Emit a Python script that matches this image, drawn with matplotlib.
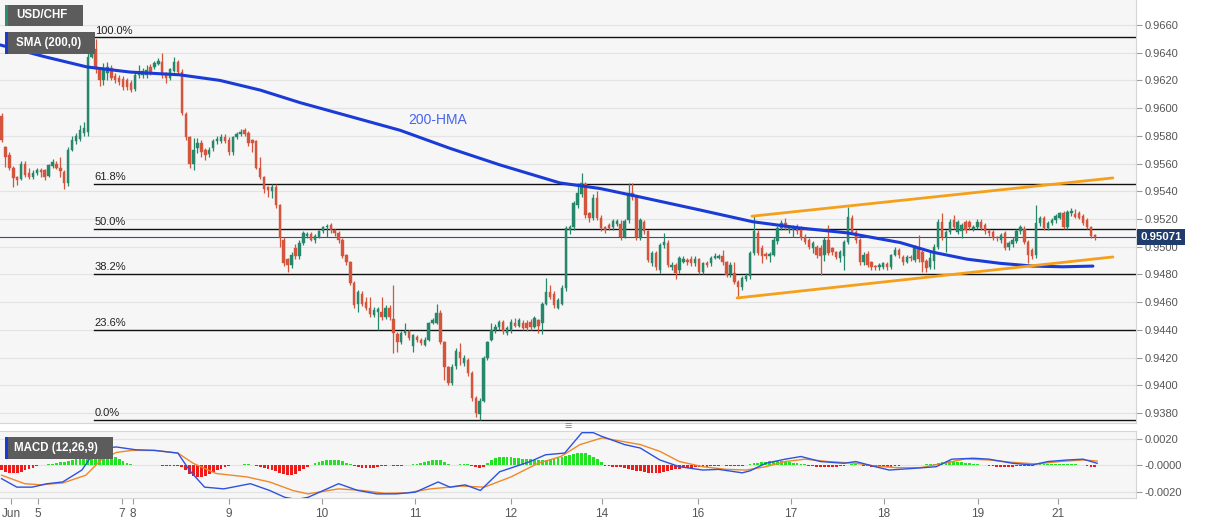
import matplotlib
matplotlib.use("Agg")
import matplotlib.pyplot as plt
import matplotlib.transforms as mtransforms
from matplotlib.patches import Rectangle
import numpy as np

plt.rcParams['font.family'] = ['Liberation Sans', 'DejaVu Sans']

# ---------------- data (prices in pips: value / 10000) ----------------
opens = [
 9594, 9572, 9566, 9557, 9550, 9549, 9560, 9553, 9550, 9553,
 9555.5, 9555, 9551, 9558, 9560, 9557, 9554, 9546, 9570, 9576,
 9578, 9582, 9583, 9637, 9643, 9628, 9620, 9625, 9629, 9623,
 9622, 9621, 9620, 9618, 9614, 9624, 9624, 9624, 9630, 9630,
 9632, 9633, 9625, 9622, 9627, 9633, 9626, 9596, 9579, 9560,
 9571, 9575, 9570, 9567, 9571, 9576, 9576.5, 9579, 9577, 9568,
 9579, 9581, 9584, 9582, 9577, 9576, 9557, 9550, 9543, 9540,
 9543, 9530, 9505, 9491, 9487, 9499, 9493, 9503, 9507.5, 9509,
 9505, 9507, 9511, 9514, 9515.5, 9512, 9510, 9505, 9494, 9489,
 9474, 9459, 9466, 9460, 9456, 9451, 9453, 9453, 9449, 9456,
 9448, 9437, 9431, 9437.5, 9439, 9428, 9435, 9433, 9429, 9433,
 9445, 9445, 9452, 9431, 9413, 9402, 9414, 9424, 9416, 9418,
 9409, 9391, 9379, 9389, 9420, 9433, 9440, 9442, 9446, 9438,
 9440, 9445, 9443, 9445, 9445, 9446, 9442, 9447, 9445, 9459,
 9467, 9466, 9456, 9459, 9470, 9512, 9514, 9530, 9538, 9545,
 9524, 9521, 9535, 9521, 9514, 9515.5, 9514, 9516.5, 9516.5, 9507,
 9519, 9539, 9536, 9506, 9518, 9511, 9488, 9495.5, 9483, 9501,
 9503, 9485, 9487, 9483, 9489, 9490.5, 9491, 9488, 9491, 9482,
 9488.5, 9488, 9492, 9492, 9493, 9489, 9480, 9481, 9474.5, 9471,
 9477, 9479, 9495.5, 9510, 9499, 9495, 9493, 9494, 9504, 9513.5,
 9517, 9512, 9512, 9515, 9513.5, 9507, 9505, 9499, 9500, 9499,
 9494, 9505, 9499, 9496, 9492, 9493, 9503.5, 9521, 9510.5, 9505,
 9489, 9495, 9489, 9486, 9485, 9485, 9487.5, 9485, 9494, 9497.5,
 9492.5, 9489, 9492.5, 9490.5, 9498, 9496, 9490, 9485, 9490, 9500,
 9518, 9507, 9510.5, 9519.5, 9510.5, 9511, 9517.5, 9517.5, 9512.5, 9514,
 9518, 9515.5, 9511.5, 9510.5, 9507, 9505, 9510, 9500, 9502, 9504,
 9511, 9513, 9503.5, 9497.5, 9494, 9517, 9520.5, 9513.5, 9517, 9519,
 9521, 9524.5, 9514, 9524, 9523.5, 9524, 9522, 9519, 9514, 9508.5]

highs = [
 9596.5, 9573, 9568, 9558, 9551, 9562, 9562, 9557, 9555, 9557,
 9557, 9556, 9560, 9563, 9562, 9565, 9555, 9572, 9580, 9582,
 9588, 9590, 9645, 9651, 9650, 9630, 9632.5, 9633, 9631, 9625,
 9624, 9623, 9622, 9620, 9626, 9631, 9629, 9631, 9632, 9634,
 9636, 9640, 9626, 9629, 9637, 9635, 9628, 9597, 9580, 9578.5,
 9578.5, 9577, 9571, 9572, 9578, 9580, 9581, 9581, 9579, 9580,
 9583, 9585, 9586, 9583.5, 9578, 9577, 9565, 9551, 9544, 9545,
 9545, 9531, 9507, 9492, 9496, 9502, 9505, 9511.5, 9510.5, 9510.5,
 9509, 9512, 9515, 9516.5, 9517, 9513, 9511, 9506, 9495, 9490,
 9475, 9469, 9468, 9464, 9464, 9456.5, 9456.5, 9464, 9458, 9458,
 9472.5, 9438.5, 9439, 9445, 9440, 9437, 9436, 9434, 9435, 9446,
 9448.5, 9459, 9454, 9432, 9414, 9415, 9427, 9430.5, 9422, 9420,
 9410, 9392, 9391, 9421, 9432, 9445, 9444, 9447, 9447, 9443,
 9448, 9448.5, 9448.5, 9447, 9447, 9448, 9450, 9448, 9460, 9477.5,
 9472.5, 9468, 9463, 9472, 9515, 9516, 9533, 9546, 9553, 9547,
 9525, 9538, 9540, 9523, 9515, 9517, 9520, 9520, 9519, 9520,
 9546, 9546, 9537, 9521, 9519, 9512, 9497, 9497, 9503, 9510,
 9505, 9489, 9488, 9493, 9493, 9492, 9493, 9493, 9492, 9489,
 9490, 9493.5, 9495.5, 9495, 9497.5, 9490, 9489, 9489, 9476, 9479,
 9481, 9497, 9522, 9512, 9501, 9496, 9496, 9507, 9515, 9519,
 9520.5, 9516, 9516, 9516.5, 9515, 9509, 9506, 9504, 9501, 9501,
 9507, 9515.5, 9500, 9497, 9497.5, 9505, 9528.5, 9523, 9512, 9506,
 9496, 9497, 9490, 9487, 9488, 9489, 9489, 9495, 9500, 9499,
 9494, 9494, 9494, 9501, 9508.5, 9497.5, 9491, 9497, 9502, 9520,
 9524.5, 9512, 9520, 9523, 9519, 9517, 9519, 9519.5, 9515.5, 9520,
 9520, 9517, 9513, 9512, 9508, 9510, 9511, 9504, 9507, 9512.5,
 9516, 9515, 9505, 9499, 9530, 9522, 9522, 9518.5, 9520.5, 9523.5,
 9525, 9526, 9526.5, 9528, 9527.5, 9526, 9523.5, 9520.5, 9515, 9509.5]

lows = [
 9575.5, 9557.5, 9555, 9543, 9544.5, 9548, 9550, 9549, 9549, 9552,
 9550, 9548, 9550, 9557, 9556, 9550, 9541.5, 9544, 9569, 9574,
 9576, 9580, 9580, 9636, 9625, 9616, 9617, 9620, 9620, 9618,
 9617, 9613, 9613, 9611.5, 9612, 9622, 9622, 9621.5, 9624, 9628,
 9631, 9622, 9618, 9620, 9626, 9624, 9595, 9577, 9557, 9555,
 9567.5, 9565, 9562.5, 9565, 9569, 9574, 9575, 9575, 9566, 9566,
 9578, 9580, 9580, 9573, 9568, 9556, 9548.5, 9539, 9536, 9535,
 9528, 9500, 9486, 9482, 9484.5, 9491, 9491, 9501, 9506, 9504,
 9503, 9506, 9510, 9507, 9510, 9508, 9503, 9492, 9487, 9472,
 9456, 9453, 9457, 9454, 9449, 9449, 9440, 9447, 9448, 9447,
 9423, 9424, 9430, 9436, 9433, 9424, 9431, 9429, 9428, 9432,
 9444, 9444, 9430, 9404, 9400, 9400, 9412, 9414.5, 9414, 9407,
 9389, 9377, 9375, 9388, 9418, 9432, 9438, 9440, 9437, 9436,
 9438, 9442, 9442, 9440, 9439, 9440, 9441, 9438, 9437, 9458,
 9462, 9456, 9455, 9458, 9468, 9509, 9512, 9528, 9536, 9521,
 9518, 9519, 9519, 9511, 9510, 9512, 9512, 9515, 9505, 9506,
 9517, 9534, 9505, 9505, 9509, 9489, 9486, 9483, 9481, 9499,
 9485, 9483, 9477, 9481, 9488, 9487, 9486, 9486, 9480, 9480,
 9485, 9486, 9491, 9491, 9487, 9478, 9478, 9473, 9463, 9469,
 9475, 9477, 9494, 9494, 9488, 9491, 9489, 9493, 9502, 9512,
 9512, 9510, 9507, 9509, 9504.5, 9502, 9498, 9495.5, 9492, 9479.5,
 9490, 9494, 9494, 9491, 9489, 9483, 9502, 9509, 9503, 9487,
 9487, 9485, 9483, 9483, 9483, 9484, 9483, 9484, 9493, 9492,
 9487, 9488, 9490, 9489, 9489, 9481.5, 9482, 9484, 9484, 9498,
 9505, 9496, 9509, 9513, 9509, 9506, 9510, 9512, 9511, 9513,
 9512, 9509, 9508, 9504.5, 9504, 9503, 9497.5, 9497.5, 9500, 9502.5,
 9509, 9502, 9488, 9491, 9492, 9515, 9512, 9512, 9515.5, 9517,
 9520, 9512.5, 9512.5, 9522.5, 9521, 9520, 9516, 9512.5, 9506, 9505]

closes = [
 9577, 9565, 9557, 9549.5, 9548, 9560, 9552, 9550, 9553, 9555.5,
 9554, 9550, 9559, 9561, 9557, 9554.5, 9546, 9570, 9577, 9580,
 9584, 9586, 9637, 9643, 9628, 9620, 9629, 9630, 9622, 9620,
 9619, 9615, 9615, 9613, 9624, 9626, 9627, 9627.5, 9626, 9632.5,
 9634, 9624, 9622, 9628, 9633, 9626, 9596.5, 9579, 9560, 9570,
 9575, 9568, 9566, 9570, 9576, 9578, 9579, 9576.5, 9568, 9579,
 9581.5, 9583, 9581, 9575, 9575, 9557, 9550, 9541.5, 9541, 9543,
 9530, 9506, 9488, 9487, 9494, 9493, 9503, 9510, 9509, 9505,
 9507.5, 9511, 9514, 9515, 9512, 9510, 9505, 9493.5, 9489, 9474,
 9458, 9467, 9459, 9456, 9451.5, 9454, 9455, 9449.5, 9456, 9449.5,
 9438, 9431, 9438, 9439.5, 9434, 9436, 9433, 9430.5, 9433, 9445,
 9447, 9452, 9431, 9413, 9402, 9413, 9425, 9420, 9420, 9409,
 9391, 9380, 9389, 9420, 9431, 9440, 9442, 9446, 9439, 9441.5,
 9446, 9443, 9447, 9441.5, 9441.5, 9442, 9448.5, 9443, 9459, 9467,
 9464, 9458, 9461.5, 9470, 9513.5, 9514.5, 9531.5, 9539, 9546, 9523,
 9521, 9535, 9521, 9513.5, 9512, 9513.5, 9518.5, 9518.5, 9507, 9518.5,
 9539, 9536, 9507, 9519, 9511, 9490.5, 9495.5, 9485, 9501, 9503.5,
 9487, 9487, 9481, 9492, 9491, 9489, 9488, 9491, 9482, 9488,
 9486.5, 9492, 9493.5, 9493.5, 9489, 9479.5, 9487, 9474.5, 9471, 9477.5,
 9479, 9495.5, 9511, 9495.5, 9493, 9493, 9494.5, 9505, 9513.5, 9517,
 9513.5, 9514.5, 9514.5, 9511, 9506, 9503.5, 9500, 9502.5, 9494, 9493,
 9505, 9495.5, 9496, 9492.5, 9496, 9503.5, 9521.5, 9510.5, 9505, 9489,
 9494, 9487, 9485, 9485, 9486.5, 9488, 9485, 9494, 9497.5, 9494,
 9489, 9492.5, 9491.5, 9499, 9491, 9489, 9484.5, 9492, 9500, 9518,
 9507, 9510.5, 9518, 9514.5, 9517.5, 9515.5, 9512, 9514, 9514, 9518,
 9513.5, 9511, 9510, 9506, 9506, 9508.5, 9499, 9502.5, 9505, 9511,
 9514.5, 9503.5, 9494, 9493, 9517, 9520.5, 9513.5, 9517, 9519, 9522,
 9524.5, 9514, 9525, 9526, 9521.5, 9521, 9517, 9514, 9507.5, 9507.1]

# 200-HMA line read at candle positions
sma_idx = [-0.4, 11.1, 21.8, 32.8, 45.5, 55.7, 66, 76.1, 88.9, 101.7, 114.4, 127.2,
           142.5, 152.7, 161.1, 178.2, 191.7, 203.7, 215.7, 229.3, 237.7, 246.4,
           254.8, 263.2, 270.9, 278.5]
sma_val = [9645.6, 9637, 9629.7, 9626, 9624, 9620, 9613, 9604, 9594, 9584, 9571, 9559,
           9546, 9542, 9537, 9526.5, 9518, 9513.5, 9510, 9503, 9496, 9491,
           9488, 9486, 9485.5, 9486]

# MACD (12,26,9) lines, values x1e-5
macd_idx = [0, 3.9, 7.8, 11.7, 15.6, 20.5, 23.5, 26.4, 29.3, 34.2, 39.1, 45, 47.9, 51.8,
            56.7, 63.5, 68.4, 72.3, 75.3, 78.2, 86, 90.9, 95.8, 100.7, 105.6, 111.4,
            114.4, 118.3, 122.2, 127.1, 134.9, 138.8, 143.7, 148.1, 151, 153, 159, 163,
            168, 173, 179, 183, 189, 191, 195, 200, 204, 209, 215, 218, 223, 226.5,
            232.5, 238.5, 242.5, 248, 252, 258, 263, 267, 272, 276, 279.6]
macd_val = [-103, -167, -167, -141, -128, -38, 90, 128, 136, 115, 110, 90, -38, -167,
            -180, -141, -192, -244, -260, -244, -141, -192, -218, -218, -205, -128,
            -167, -150, -192, -51, 26, 77, 90, 244, 244, 218, 154, 128,
            38, -13, -38, -33, -59, -44, 13, 44, 64, 26, 13, 26, -13, -38,
            -26, -13, 44, 51, 44, 13, 0, 26, 38, 44, 13]
signal_idx = [0, 5.9, 9.8, 15.6, 21.5, 25.4, 29.3, 33.2, 39.1, 45, 48.9, 54.7, 62.6,
              68.4, 74.3, 78.2, 86, 91.9, 97.8, 103.6, 109.5, 117.3, 123.2, 130, 136.9,
              142.7, 147.6, 153.3, 163, 168, 173, 179, 185, 190, 195, 200, 205, 211,
              218, 223, 228.5, 234.5, 240.5, 246, 252, 258, 264, 270, 276, 279.6]
signal_val = [-77, -141, -149, -136, -77, 38, 95, 110, 110, 90, 13, -64, -90,
              -128, -192, -218, -180, -192, -213, -210, -180, -159, -167, -90, 13,
              64, 154, 205, 154, 103, 26, -13, -33, -38, -13, 26, 44, 26,
              13, -8, -20, -20, 13, 46, 38, 20, 8, 26, 38, 30]
hist_val = [
 -40, -50, -58, -60, -58, -50, -40, -30, -20, -10,
 -3, 3, 6, 10, 15, 20, 25, 30, 35, 42,
 50, 58, 68, 80, 92, 100, 95, 85, 72, 58,
 45, 30, 18, 8, 0, -1, -1, -1, 0, 0,
 0, -5, -5, -5, -5, -5, -15, -40, -65, -85,
 -90, -88, -80, -68, -55, -40, -28, -15, -5, 0,
 0, 3, 5, 5, 3, -5, -15, -22, -28, -35,
 -45, -58, -70, -78, -75, -65, -48, -30, -12, 3,
 12, 22, 30, 36, 40, 40, 36, 28, 18, 8,
 -10, -18, -24, -26, -26, -24, -18, -10, -4, -3,
 -6, -8, -6, -2, 3, 6, 10, 15, 20, 28,
 36, 40, 35, 22, 10, 0, 0, 5, 7, 5,
 -10, -18, -20, -12, 15, 35, 50, 58, 60, 60,
 58, 55, 52, 48, 45, 42, 40, 38, 38, 40,
 42, 45, 50, 58, 66, 75, 82, 88, 92, 88,
 75, 60, 42, 25, -5, -10, -12, -15, -18, -22,
 -28, -35, -42, -48, -55, -60, -62, -62, -58, -52,
 -45, -38, -32, -28, -25, -22, -20, -18, -16, -15,
 -13, -10, -8, -5, -3, -6, -8, -8, -8, -6,
 -3, 5, 12, 18, 22, 25, 28, 30, 30, 28,
 25, 22, 18, 14, 10, 6, -5, -10, -12, -14,
 -15, -15, -14, -12, -10, -6, 3, 5, 5, 3,
 -5, -10, -14, -16, -18, -18, -16, -12, -8, -4,
 -2, -1, 0, 1, 2, 3, 4, 6, 10, 16,
 22, 26, 28, 28, 26, 22, 18, 14, 10, 6,
 3, -3, -6, -10, -13, -15, -15, -14, -12, -10,
 -8, -8, -10, -5, 3, 5, 6, 7, 7, 7,
 6, 6, 5, 5, 4, 3, 2, -5, -12, -18]

fib_high = 0.9651
fib_low = 0.9375
fib_ratios = [1.0, 0.618, 0.5, 0.382, 0.236, 0.0]
fib_labels = ["100.0%", "61.8%", "50.0%", "38.2%", "23.6%", "0.0%"]
fib_start = 23.6

upper_idx = [191.5, 283.6]
upper_val = [9522, 9549.6]
lower_idx = [187.7, 283.6]
lower_val = [9463, 9492.6]

last_price = 0.95071

xtick_pos = [2.4, 9.3, 30.7, 33.5, 58.0, 81.8, 105.5, 130.0, 153.2, 177.7, 201.4, 225.2, 249.2, 269.5]
xtick_lab = ["Jun", "5", "7", "8", "9", "10", "11", "12", "14", "16", "17", "18", "19", "21"]
price_ticks = [0.9380, 0.9400, 0.9420, 0.9440, 0.9460, 0.9480, 0.9500, 0.9520,
               0.9540, 0.9560, 0.9580, 0.9600, 0.9620, 0.9640, 0.9660]
macd_ticks = [0.0020, 0.0, -0.0020]
macd_tick_lab = ["0.0020", "-0.0000", "-0.0020"]

# ---------------- figure ----------------
W, H = 1207, 526
fig = plt.figure(figsize=(W / 100, H / 100), dpi=100)
fig.patch.set_facecolor("white")


def fr(x0, y0, x1, y1):
    return [x0 / W, 1 - y1 / H, (x1 - x0) / W, (y1 - y0) / H]


ax = fig.add_axes(fr(0, 0, 1136, 423))
axm = fig.add_axes(fr(0, 431, 1136, 498), sharex=ax)

bg = "#f6f6f6"
grid_c = "#e3e3e3"
for a in (ax, axm):
    a.set_facecolor(bg)
    for s in a.spines.values():
        s.set_color("#d6d6d6")
        s.set_linewidth(0.8)
    a.spines["left"].set_visible(False)
ax.spines["top"].set_visible(False)

o = np.array(opens) / 1e4
h = np.array(highs) / 1e4
l = np.array(lows) / 1e4
c = np.array(closes) / 1e4
idx = np.arange(len(c))

ax.set_xlim(-0.4, 289.5)
ax.set_ylim(0.937278, 0.96780)

# grid
for p in price_ticks:
    ax.axhline(p, color=grid_c, lw=0.8, zorder=0)

up_c, dn_c = "#26876b", "#d5543c"
col = np.where(c >= o, up_c, dn_c)
ax.vlines(idx, l, h, colors=col, lw=0.9, zorder=3)
body_bot = np.minimum(o, c)
body_h = np.maximum(np.abs(c - o), 0.00003)
ax.bar(idx, body_h, bottom=body_bot, width=0.62, color=col, edgecolor=col, lw=0.3, zorder=4)

# fib lines
rng = fib_high - fib_low
for r, lab in zip(fib_ratios, fib_labels):
    lev = fib_low + r * rng
    ax.plot([fib_start, 289.5], [lev, lev], color="#111111", lw=1.0, zorder=2)
    ax.annotate(lab, xy=(fib_start, lev), xytext=(0.5, 1.2), textcoords="offset points",
                ha="left", va="bottom", fontsize=8, color="#222222", zorder=6)

# current price line
ax.axhline(last_price, color="#33507c", lw=0.8, zorder=2)

# 200-HMA
ax.plot(sma_idx, np.array(sma_val) / 1e4, color="#1b3bd6", lw=2.2, zorder=5,
        solid_capstyle="round")
ax.text(111.2, 0.95915, "200-HMA", color="#4764ee", fontsize=10, ha="center", va="center",
        zorder=6)

# channel
ax.plot(upper_idx, np.array(upper_val) / 1e4, color="#f5a01a", lw=2.0, zorder=5,
        solid_capstyle="round")
ax.plot(lower_idx, np.array(lower_val) / 1e4, color="#f5a01a", lw=2.0, zorder=5,
        solid_capstyle="round")

# right axis
ax.yaxis.tick_right()
ax.set_yticks(price_ticks)
ax.set_yticklabels(["%.4f" % p for p in price_ticks])
ax.tick_params(axis="y", length=4, width=0.8, color="#9a9a9a", labelcolor="#555555",
               labelsize=8, pad=2)
ax.tick_params(axis="x", bottom=False, labelbottom=False)

trans = mtransforms.blended_transform_factory(ax.transAxes, ax.transData)
ax.text(1.004, last_price, "0.95071", transform=trans, ha="left", va="center",
        fontsize=8.2, fontweight="bold", color="white", zorder=10,
        bbox=dict(boxstyle="square,pad=0.28", facecolor="#1f3c6c", edgecolor="none"),
        clip_on=False)

# MACD panel
axm.set_ylim(-0.00249, 0.002566)
for p in macd_ticks:
    axm.axhline(p, color=grid_c, lw=0.8, zorder=0)
hv = np.array(hist_val) / 1e5
hcol = np.where(hv >= 0, "#22e322", "#ee1b1b")
axm.bar(idx, hv, width=0.72, color=hcol, zorder=2)
axm.plot(signal_idx, np.array(signal_val) / 1e5, color="#f0882a", lw=1.0, zorder=3)
axm.plot(macd_idx, np.array(macd_val) / 1e5, color="#2d52e0", lw=1.0, zorder=4)
axm.yaxis.tick_right()
axm.set_yticks(macd_ticks)
axm.set_yticklabels(macd_tick_lab)
axm.tick_params(axis="y", length=4, width=0.8, color="#9a9a9a", labelcolor="#555555",
                labelsize=8, pad=2)
axm.set_xticks(xtick_pos)
axm.set_xticklabels(xtick_lab)
axm.tick_params(axis="x", length=4, width=0.8, color="#9a9a9a", labelcolor="#555555",
                labelsize=8.5, pad=3)


# label boxes (pixel coordinates)
def label_box(x0, y0, x1, y1, strip, text, tx):
    fig.patches.append(Rectangle((x0 / W, 1 - y1 / H), (x1 - x0) / W, (y1 - y0) / H,
                                 transform=fig.transFigure, facecolor="#5c5c5c",
                                 edgecolor="none", zorder=20))
    fig.patches.append(Rectangle((x0 / W, 1 - y1 / H), 2.5 / W, (y1 - y0) / H,
                                 transform=fig.transFigure, facecolor=strip,
                                 edgecolor="none", zorder=21))
    fig.text(tx / W, 1 - (y0 + y1) / 2 / H, text, color="white", fontsize=8.3,
             fontweight="bold", ha="left", va="center", zorder=22)


label_box(5, 5, 83, 26, "#2e8a72", "USD/CHF", 16)
label_box(5, 32, 95, 54, "#1a3ad8", "SMA (200,0)", 16)
label_box(5, 437, 113, 459, "#1a3ad8", "MACD (12,26,9)", 14)

fig.text(568 / W, 1 - 427 / H, "\u2261", color="#8a8a8a", fontsize=9, ha="center",
         va="center")

fig.savefig("out.png", dpi=100, facecolor="white")
